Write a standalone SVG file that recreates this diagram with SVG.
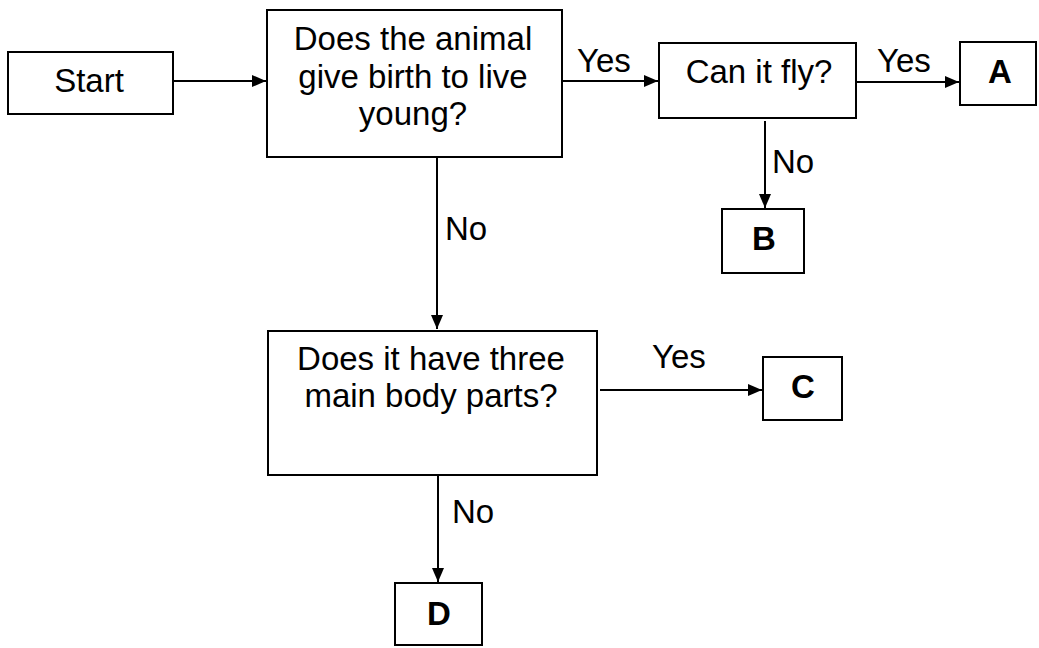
<svg xmlns="http://www.w3.org/2000/svg" width="1039" height="648" viewBox="0 0 1039 648">
<style>
.box{fill:#fff;stroke:#000;stroke-width:2}
.t{font-family:"Liberation Sans",Arial,sans-serif;font-size:33px;fill:#000;text-anchor:middle}
.b{font-weight:bold}
.lbl{font-family:"Liberation Sans",Arial,sans-serif;font-size:33px;fill:#000}
.c{stroke:#000;stroke-width:2;fill:none;marker-end:url(#ah)}
</style>
<defs>
<marker id="ah" markerUnits="userSpaceOnUse" markerWidth="15" markerHeight="13" refX="14" refY="6" orient="auto">
<path d="M0,0 L14,6 L0,12 z" fill="#000"/>
</marker>
</defs>
<rect width="1039" height="648" fill="#fff"/>
<g id="connectors">
<line class="c" x1="173" y1="81" x2="266" y2="81"/>
<line class="c" x1="562" y1="81" x2="658" y2="81"/>
<line class="c" x1="856" y1="82" x2="959" y2="82"/>
<line class="c" x1="765" y1="121" x2="765" y2="208"/>
<line class="c" x1="437" y1="157" x2="437" y2="329"/>
<line class="c" x1="600" y1="390" x2="762" y2="390"/>
<line class="c" x1="438" y1="475" x2="438" y2="582"/>
<text class="lbl" x="577" y="72">Yes</text>
<text class="lbl" x="877" y="72">Yes</text>
<text class="lbl" x="772" y="173">No</text>
<text class="lbl" x="445" y="240">No</text>
<text class="lbl" x="652" y="368">Yes</text>
<text class="lbl" x="452" y="523">No</text>
</g>
<g id="start">
<rect class="box" x="8" y="52" width="165" height="62"/>
<text class="t" x="89" y="92">Start</text>
</g>
<g id="q1">
<rect class="box" x="267" y="10" width="295" height="147"/>
<text class="t" x="413" y="50">Does the animal</text>
<text class="t" x="413" y="88">give birth to live</text>
<text class="t" x="413" y="125">young?</text>
</g>
<g id="fly">
<rect class="box" x="659" y="43" width="197" height="75"/>
<text class="t" x="759" y="83">Can it fly?</text>
</g>
<g id="a">
<rect class="box" x="960" y="42" width="76" height="63"/>
<text class="t b" x="1000" y="83">A</text>
</g>
<g id="b">
<rect class="box" x="722" y="209" width="82" height="64"/>
<text class="t b" x="764" y="250">B</text>
</g>
<g id="q2">
<rect class="box" x="268" y="331" width="329" height="144"/>
<text class="t" x="431" y="370">Does it have three</text>
<text class="t" x="431" y="407">main body parts?</text>
</g>
<g id="c">
<rect class="box" x="763" y="357" width="79" height="63"/>
<text class="t b" x="803" y="398">C</text>
</g>
<g id="d">
<rect class="box" x="395" y="583" width="87" height="62"/>
<text class="t b" x="439" y="625">D</text>
</g>
</svg>
